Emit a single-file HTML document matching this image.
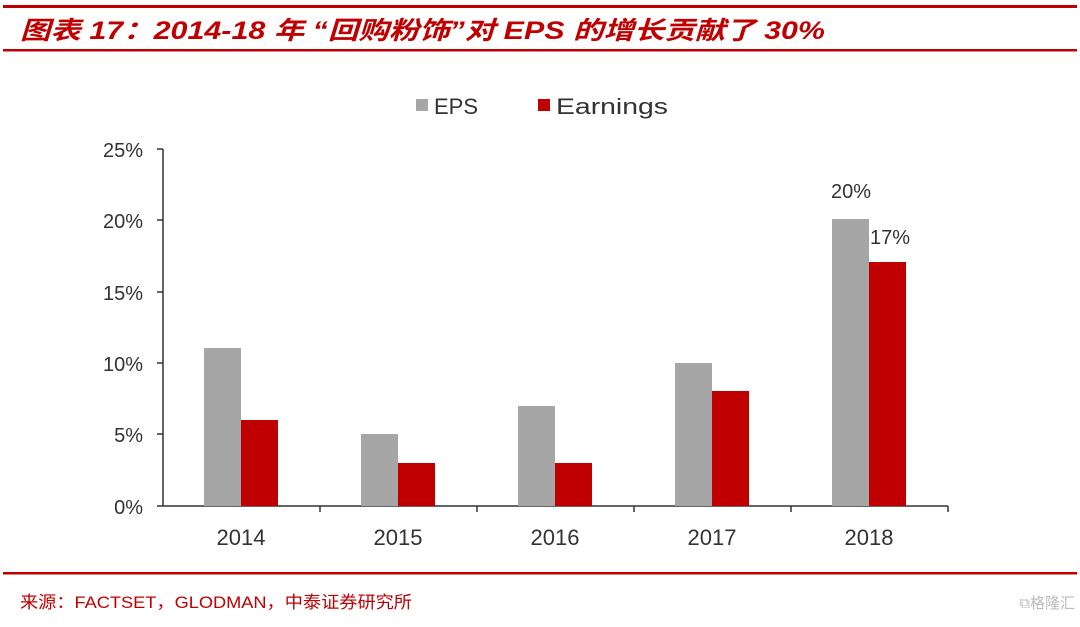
<!DOCTYPE html>
<html><head><meta charset="utf-8"><style>
html,body{margin:0;padding:0;background:#fff;}
</style></head><body>
<svg width="1080" height="622" xmlns="http://www.w3.org/2000/svg" font-family="'Liberation Sans','Noto Sans CJK SC',sans-serif">
<rect width="1080" height="622" fill="#fff"/>
<rect x="3" y="5" width="1074" height="3" fill="#c00000"/>
<text x="20" y="39" font-size="25" font-weight="bold" font-style="italic" fill="#c00000" textLength="805" lengthAdjust="spacingAndGlyphs">图表 17：2014-18 年 “回购粉饰”对 EPS 的增长贡献了 30%</text>
<rect x="3" y="49" width="1074" height="2.5" fill="#c00000"/>
<rect x="416" y="99" width="12" height="12" fill="#a6a6a6"/>
<text x="434" y="114" font-size="22" fill="#333" textLength="44" lengthAdjust="spacingAndGlyphs">EPS</text>
<rect x="538" y="99" width="12" height="12" fill="#c00000"/>
<text x="556" y="114" font-size="22" fill="#333" textLength="112" lengthAdjust="spacingAndGlyphs">Earnings</text>
<g font-size="20" fill="#333" text-anchor="end">
<text x="143" y="157">25%</text>
<text x="143" y="228">20%</text>
<text x="143" y="300">15%</text>
<text x="143" y="371">10%</text>
<text x="143" y="442">5%</text>
<text x="143" y="514">0%</text>
</g>
<g stroke="#333" stroke-width="1.5">
<line x1="163" y1="149" x2="163" y2="506"/>
<line x1="157" y1="149" x2="163" y2="149"/>
<line x1="157" y1="220" x2="163" y2="220"/>
<line x1="157" y1="292" x2="163" y2="292"/>
<line x1="157" y1="363" x2="163" y2="363"/>
<line x1="157" y1="434" x2="163" y2="434"/>
<line x1="157" y1="506" x2="948" y2="506"/>
<line x1="320" y1="506" x2="320" y2="512"/>
<line x1="477" y1="506" x2="477" y2="512"/>
<line x1="634" y1="506" x2="634" y2="512"/>
<line x1="791" y1="506" x2="791" y2="512"/>
<line x1="948" y1="506" x2="948" y2="512"/>
</g>
<g fill="#a6a6a6">
<rect x="204" y="348" width="37" height="158"/>
<rect x="361" y="434" width="37" height="72"/>
<rect x="518" y="406" width="37" height="100"/>
<rect x="675" y="363" width="37" height="143"/>
<rect x="832" y="219" width="37" height="287"/>
</g>
<g fill="#c00000">
<rect x="241" y="420" width="37" height="86"/>
<rect x="398" y="463" width="37" height="43"/>
<rect x="555" y="463" width="37" height="43"/>
<rect x="712" y="391" width="37" height="115"/>
<rect x="869" y="262" width="37" height="244"/>
</g>
<text x="851" y="198" font-size="20" fill="#333" text-anchor="middle">20%</text>
<text x="890" y="244" font-size="20" fill="#333" text-anchor="middle">17%</text>
<g font-size="22" fill="#333" text-anchor="middle">
<text x="241" y="545">2014</text>
<text x="398" y="545">2015</text>
<text x="555" y="545">2016</text>
<text x="712" y="545">2017</text>
<text x="869" y="545">2018</text>
</g>
<rect x="3" y="572" width="1074" height="2.5" fill="#c00000"/>
<text x="20" y="608" font-size="17" fill="#c00000" textLength="392" lengthAdjust="spacingAndGlyphs">来源：FACTSET，GLODMAN，中泰证券研究所</text>
<text x="1075" y="608" font-size="15" fill="#bbb" text-anchor="end">⧉格隆汇</text>
</svg>
</body></html>
